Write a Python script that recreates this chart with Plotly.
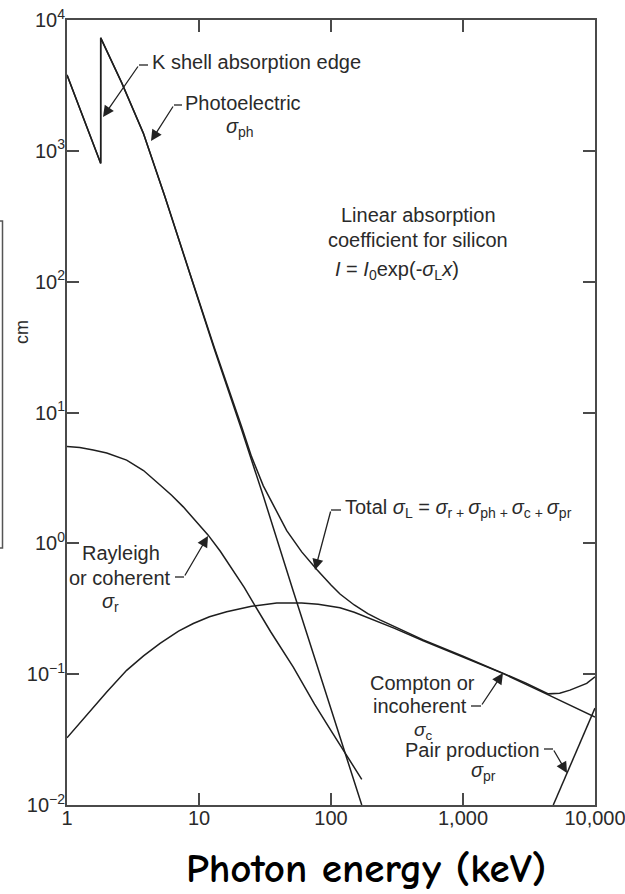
import plotly.graph_objects as go

# ---------------- data ----------------
# photon energy in keV, linear absorption coefficient in cm^-1
photo_energy = [1, 1.8, 1.8, 2.6, 3.79, 5.5, 8.55, 13, 21.1, 30.7, 51.8, 80, 124, 171]
photo_sigma = [3800, 800, 7300, 3300, 1360, 450, 114, 31, 7.3, 2.3, 0.43, 0.11, 0.027, 0.0100]

rayleigh_energy = [1, 1.25, 1.58, 2.0, 2.83, 3.8, 5.07, 6.2, 7.6, 9.3, 11.7, 14.5, 18.2, 22,
                   25.6, 35, 51.8, 75, 100, 124, 150, 171]
rayleigh_sigma = [5.5, 5.4, 5.17, 4.9, 4.33, 3.6, 2.79, 2.33, 1.9, 1.52, 1.16, 0.87, 0.62, 0.46,
                  0.355, 0.21, 0.113, 0.059, 0.037, 0.026, 0.0195, 0.0157]

compton_energy = [1, 1.25, 1.58, 2.0, 2.83, 3.8, 5.07, 7, 9.05, 12, 16.2, 25, 38.8, 60, 80,
                  117, 150, 197, 300, 500, 1000, 2020, 4430, 10000]
compton_sigma = [0.0326, 0.0425, 0.056, 0.073, 0.107, 0.138, 0.172, 0.213, 0.244, 0.275, 0.30,
                 0.33, 0.350, 0.350, 0.342, 0.322, 0.297, 0.267, 0.225, 0.18, 0.135, 0.101,
                 0.0694, 0.047]

pair_energy = [4830, 10000]
pair_sigma = [0.0100, 0.055]

total_energy = [1, 1.8, 1.8, 2.6, 3.79, 5.5, 8.55, 13, 21.1, 25, 30.7, 38, 46.2, 60, 78, 100,
                117, 150, 190, 235, 300, 500, 1000, 2020, 3000, 4430, 5400, 6460, 8650, 10000]
total_sigma = [3806, 805, 7305, 3305, 1365, 452, 115, 31.8, 7.7, 4.6, 2.75, 1.8, 1.25, 0.86,
               0.63, 0.48, 0.41, 0.338, 0.29, 0.26, 0.232, 0.183, 0.137, 0.102, 0.0855,
               0.0707, 0.0715, 0.0755, 0.085, 0.0955]

x_tick_vals = [1, 10, 100, 1000, 10000]
x_tick_text = ["1", "10", "100", "1,000", "10,000"]
y_tick_vals = [1e-2, 1e-1, 1e0, 1e1, 1e2, 1e3, 1e4]
y_tick_text = ["10<sup>\u22122</sup>", "10<sup>\u22121</sup>", "10<sup>0</sup>", "10<sup>1</sup>",
               "10<sup>2</sup>", "10<sup>3</sup>", "10<sup>4</sup>"]

# ---------------- figure ----------------
W, H = 625, 894
L, R, T, B = 67, 30, 20, 89
PW, PH = W - L - R, H - T - B

def xp(px):
    return (px - L) / PW

def yp(py):
    return (T + PH - py) / PH

LINE = dict(color="#1e1e1e", width=1.5)
fig = go.Figure()
for xs, ys in [(photo_energy, photo_sigma), (rayleigh_energy, rayleigh_sigma),
               (compton_energy, compton_sigma), (pair_energy, pair_sigma),
               (total_energy, total_sigma)]:
    fig.add_trace(go.Scatter(x=xs, y=ys, mode="lines", line=LINE,
                             showlegend=False, hoverinfo="skip"))

TXT = dict(family="Liberation Sans, Arial, Helvetica, sans-serif", size=20, color="#2a2a2a")
AX = dict(type="log", showgrid=False, zeroline=False, showline=True, linecolor="#4a4a4a",
          linewidth=2, mirror="ticks", ticks="inside", ticklen=12, tickwidth=1.6,
          tickcolor="#4a4a4a", tickfont=TXT, ticklabeloverflow="allow", automargin=False)

annotations = []
shapes = []

def label(text, px, py, anchor="left", size=20):
    annotations.append(dict(text=text, x=xp(px), y=yp(py), xref="paper", yref="paper",
                            showarrow=False, xanchor=anchor, yanchor="middle",
                            font=dict(TXT, size=size)))

def leader(dash_from, dash_to, tip):
    shapes.append(dict(type="line", xref="paper", yref="paper",
                       x0=xp(dash_from[0]), y0=yp(dash_from[1]),
                       x1=xp(dash_to[0]), y1=yp(dash_to[1]),
                       line=dict(color="#222", width=1.3)))
    tail = dash_from
    annotations.append(dict(text="", x=xp(tip[0]), y=yp(tip[1]), xref="paper", yref="paper",
                            ax=tail[0] - tip[0], ay=tail[1] - tip[1], showarrow=True,
                            arrowhead=2, arrowsize=1.7, arrowwidth=1.3, arrowcolor="#222"))

# K shell
label("K shell absorption edge", 150, 62)
leader((139, 65), (148, 65), (103, 117))
# Photoelectric
label("Photoelectric", 183, 103)
label("<i>\u03c3</i><sub>ph</sub>", 240, 128, anchor="center")
leader((174, 105), (182, 105), (151, 141))
# Linear absorption block
label("Linear absorption", 418, 215, anchor="center")
label("coefficient for silicon", 418, 240, anchor="center")
label("<i>I</i> = <i>I</i><sub>0</sub>exp(-<i>\u03c3</i><sub>L</sub><i>x</i>)", 333, 270)
# Total
label("Total <i>\u03c3</i><sub>L</sub> = <i>\u03c3</i><sub>r\u00a0+\u00a0</sub><i>\u03c3</i><sub>ph\u00a0+\u00a0</sub>"
      "<i>\u03c3</i><sub>c\u00a0+\u00a0</sub><i>\u03c3</i><sub>pr</sub>", 343, 508)
leader((331, 510), (341, 510), (315, 570))
# Rayleigh
label("Rayleigh", 121, 553, anchor="center")
label("or coherent", 120, 578, anchor="center")
label("<i>\u03c3</i><sub>r</sub>", 110, 602, anchor="center")
leader((184, 577), (175, 577), (208, 536))
# Compton
label("Compton or", 422, 683, anchor="center")
label("incoherent", 420, 706, anchor="center")
label("<i>\u03c3</i><sub>c</sub>", 423, 731, anchor="center", size=19)
leader((481, 706), (471, 706), (503, 673))
# Pair production
label("Pair production", 472, 750, anchor="center")
label("<i>\u03c3</i><sub>pr</sub>", 483, 771, anchor="center")
leader((553, 749), (544, 749), (567, 773))

# cropped axis-title fragment at the far left
annotations.append(dict(text="cm", x=xp(22), y=yp(332), xref="paper", yref="paper",
                        showarrow=False, textangle=-90, xanchor="center", yanchor="middle",
                        font=dict(TXT, size=18)))
shapes.append(dict(type="rect", xref="paper", yref="paper", x0=xp(-10), x1=xp(2.5),
                   y0=yp(548), y1=yp(221), line=dict(color="#555", width=1.5)))

# x-axis title
annotations.append(dict(text="<b>Photon energy (keV)</b>", x=xp(366), y=yp(868),
                        xref="paper", yref="paper", showarrow=False,
                        xanchor="center", yanchor="middle",
                        font=dict(family="Comic Sans MS, Comic Neue, DejaVu Sans, sans-serif",
                                  size=41, color="#000")))

fig.update_layout(
    width=W, height=H, margin=dict(l=L, r=R, t=T, b=B, autoexpand=False),
    paper_bgcolor="white", plot_bgcolor="white",
    xaxis=dict(AX, range=[0, 4], tickvals=x_tick_vals, ticktext=x_tick_text,
               ticklabelstandoff=-6),
    yaxis=dict(AX, range=[-2, 4], tickvals=y_tick_vals, ticktext=y_tick_text,
               ticklabelstandoff=-4),
    annotations=annotations, shapes=shapes,
)

fig.write_html("out.html")
